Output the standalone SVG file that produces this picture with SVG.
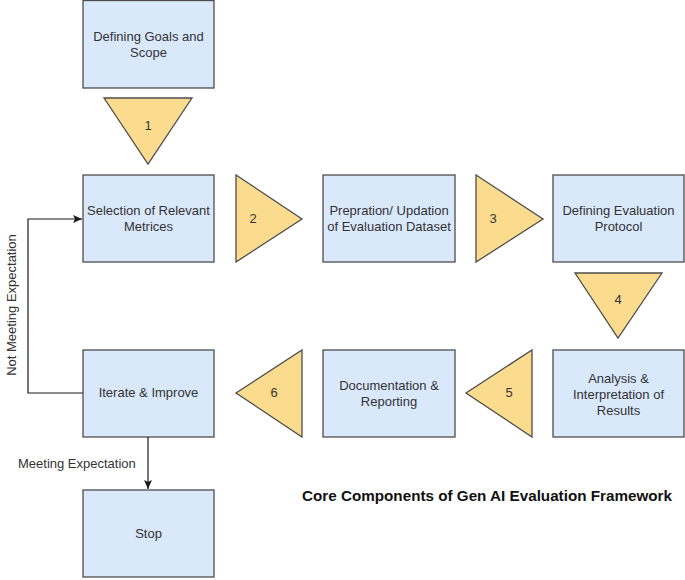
<svg xmlns="http://www.w3.org/2000/svg" width="685" height="580" viewBox="0 0 685 580">
<style>
.box{fill:#dae8fc;stroke:#4d4d4d;stroke-width:1.3}
.tri{fill:#fbdc8e;stroke:#4d4d4d;stroke-width:1.3}
.t{font-family:"Liberation Sans",Arial,sans-serif;font-size:13px;fill:#333;text-anchor:middle}
.n{font-family:"Liberation Sans",Arial,sans-serif;font-size:13px;fill:#333;text-anchor:middle}
.c{fill:none;stroke:#1a1a1a;stroke-width:1.2}
.lbl{font-family:"Liberation Sans",Arial,sans-serif;font-size:13px;fill:#333}
</style>
<defs>
<marker id="ah" markerWidth="10" markerHeight="10" refX="9" refY="5" orient="auto" markerUnits="userSpaceOnUse">
<path d="M0,1 L9,5 L0,9 L2,5 Z" fill="#1a1a1a"/>
</marker>
</defs>
<rect width="685" height="580" fill="#fff"/>
<g id="goals"><rect class="box" x="83" y="0.5" width="131" height="87.5"/><text class="t" x="148.5" y="41">Defining Goals and</text><text class="t" x="148.5" y="57">Scope</text></g>
<g id="tri1"><polygon class="tri" points="104,98 192,98 148,164"/><text class="n" x="148" y="130">1</text></g>
<g id="selection"><rect class="box" x="83" y="175" width="131" height="87"/><text class="t" x="148.5" y="215">Selection of Relevant</text><text class="t" x="148.5" y="231">Metrices</text></g>
<g id="tri2"><polygon class="tri" points="236,175 302,219 236,262"/><text class="n" x="253" y="223">2</text></g>
<g id="prep"><rect class="box" x="323" y="175" width="132" height="87"/><text class="t" x="389" y="215">Prepration/ Updation</text><text class="t" x="389" y="231">of Evaluation Dataset</text></g>
<g id="tri3"><polygon class="tri" points="476,175 543,219 476,262"/><text class="n" x="493" y="223">3</text></g>
<g id="protocol"><rect class="box" x="553" y="175" width="131" height="87"/><text class="t" x="618.5" y="215">Defining Evaluation</text><text class="t" x="618.5" y="231">Protocol</text></g>
<g id="tri4"><polygon class="tri" points="575,273 662,273 618,338"/><text class="n" x="618" y="304">4</text></g>
<g id="analysis"><rect class="box" x="553" y="350" width="131" height="87"/><text class="t" x="618.5" y="383">Analysis &amp;</text><text class="t" x="618.5" y="399">Interpretation of</text><text class="t" x="618.5" y="415">Results</text></g>
<g id="tri5"><polygon class="tri" points="532,350 532,437 466,393"/><text class="n" x="509" y="397">5</text></g>
<g id="doc"><rect class="box" x="323" y="350" width="132" height="87"/><text class="t" x="389" y="390">Documentation &amp;</text><text class="t" x="389" y="406">Reporting</text></g>
<g id="tri6"><polygon class="tri" points="302,350 302,437 236,393"/><text class="n" x="274" y="397">6</text></g>
<g id="iterate"><rect class="box" x="83" y="350" width="131" height="87"/><text class="t" x="148.5" y="397">Iterate &amp; Improve</text></g>
<g id="stop"><rect class="box" x="83" y="490" width="131" height="87"/><text class="t" x="148.5" y="538">Stop</text></g>
<g id="connectors">
<path class="c" d="M83,393 H28 V219 H82" marker-end="url(#ah)"/>
<path class="c" d="M148,437 V489" marker-end="url(#ah)"/>
</g>
<text class="lbl" transform="translate(16,305) rotate(-90)" text-anchor="middle">Not Meeting Expectation</text>
<text class="lbl" x="18" y="468">Meeting Expectation</text>
<text x="302" y="501" font-family="Liberation Sans,Arial,sans-serif" font-size="15" font-weight="bold" fill="#111" textLength="370" lengthAdjust="spacingAndGlyphs">Core Components of Gen AI Evaluation Framework</text>
</svg>
